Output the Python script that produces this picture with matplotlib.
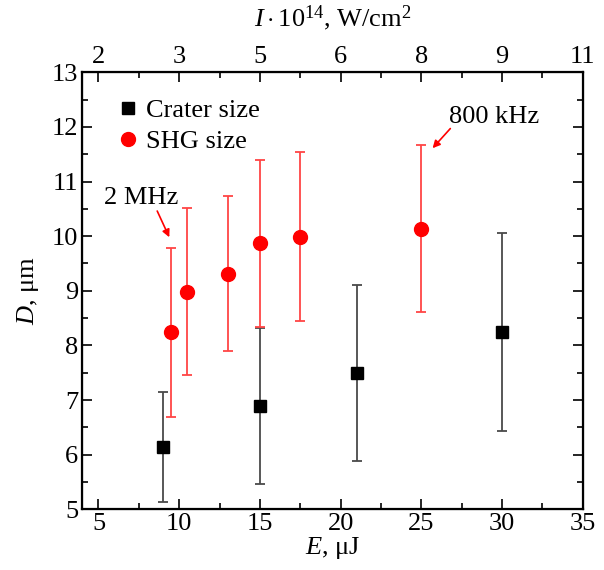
import numpy as np
import matplotlib
matplotlib.use("Agg")
import matplotlib.pyplot as plt
from matplotlib.lines import Line2D

plt.rcParams['font.family'] = ['Liberation Serif', 'DejaVu Serif']
plt.rcParams['mathtext.fontset'] = 'custom'
plt.rcParams['mathtext.rm'] = 'Liberation Serif'
plt.rcParams['mathtext.it'] = 'Liberation Serif:italic'

# crater size (black squares)
crater_E = [9, 15, 21, 30]
crater_D = [6.14, 6.89, 7.50, 8.25]
crater_err = [1.0, 1.43, 1.61, 1.81]

# SHG size (red circles)
shg_E = [9.5, 10.5, 13, 15, 17.5, 25]
shg_D = [8.24, 8.98, 9.31, 9.87, 9.99, 10.14]
shg_err = [1.55, 1.53, 1.42, 1.53, 1.55, 1.53]

# top axis: intensity at the energy ticks
top_ticks = [5, 10, 15, 20, 25, 30, 35]
top_labels = ['2', '3', '5', '6', '8', '9', '11']

fs = 19

fig = plt.figure(figsize=(6.04, 5.70), dpi=100)
ax = fig.add_axes([0.1363, 0.1065, 0.8284, 0.7667])

ax.errorbar(crater_E, crater_D, yerr=crater_err, fmt='none', ecolor='#4a4a4a',
            elinewidth=1.3, capsize=3.5, capthick=1.3, zorder=2)
ax.plot(crater_E, crater_D, 's', color='black', markersize=8.5, zorder=3)

ax.errorbar(shg_E, shg_D, yerr=shg_err, fmt='none', ecolor='#ff4545',
            elinewidth=1.3, capsize=3.5, capthick=1.3, zorder=2)
ax.plot(shg_E, shg_D, 'o', color='red', markersize=10, zorder=3)

ax.set_xlim(4, 35)
ax.set_ylim(5, 13)
ax.set_xticks(np.arange(5, 36, 5))
ax.set_xticks(np.arange(7.5, 35, 5), minor=True)
ax.set_yticks(np.arange(5, 14, 1))
ax.set_yticks(np.arange(5.5, 13, 1), minor=True)
ax.tick_params(which='both', direction='in', labelsize=fs, width=1.2)
ax.tick_params(which='major', length=7, pad=3)
ax.tick_params(which='minor', length=4.5)
ax.tick_params(axis='y', which='both', right=True)
for s in ax.spines.values():
    s.set_linewidth(1.6)

ax.set_xlabel('$E$, μJ', fontsize=fs, labelpad=0)
ax.set_ylabel('$D$, μm', fontsize=fs, labelpad=8)

top = ax.twiny()
top.set_xlim(ax.get_xlim())
top.set_xticks(top_ticks)
top.set_xticklabels(top_labels)
top.set_xticks(np.arange(7.5, 35, 5), minor=True)
top.tick_params(which='both', direction='in', labelsize=fs, width=1.2)
top.tick_params(which='major', length=7, pad=3)
top.tick_params(which='minor', length=4.5)
top.set_xlabel(r'$I\cdot10^{14}$, W/cm$^2$', fontsize=fs, labelpad=14)

handles = [Line2D([], [], marker='s', color='black', ls='none', markersize=8.5),
           Line2D([], [], marker='o', color='red', ls='none', markersize=10)]
ax.legend(handles, ['Crater size', 'SHG size'], loc='upper left',
          bbox_to_anchor=(0.07, 0.94), frameon=False, fontsize=19,
          handlelength=0.8, handletextpad=0.28, labelspacing=0.3,
          borderaxespad=0, borderpad=0)

arrow = dict(arrowstyle='-|>', color='red', lw=1.2, mutation_scale=11, shrinkA=0, shrinkB=0)
ax.annotate('', xy=(9.39, 9.98), xytext=(8.64, 10.46), arrowprops=arrow)
ax.text(7.65, 10.70, '2 MHz', fontsize=fs, ha='center', va='center')
ax.annotate('', xy=(25.7, 11.61), xytext=(26.8, 11.97), arrowprops=arrow)
ax.text(29.5, 12.19, '800 kHz', fontsize=fs, ha='center', va='center')

fig.savefig('out.png', dpi=100)
